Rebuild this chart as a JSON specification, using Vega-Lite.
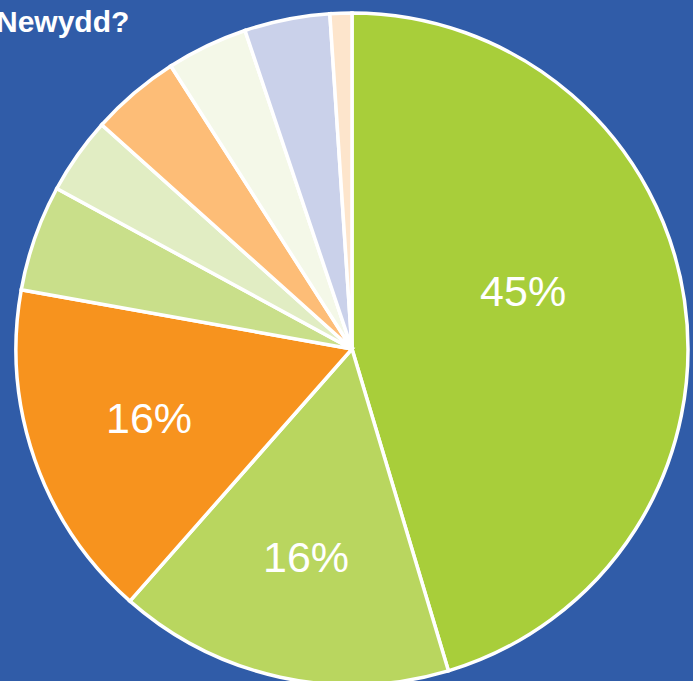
{
  "$schema": "https://vega.github.io/schema/vega-lite/v6.json",
  "width": 704,
  "height": 698,
  "autosize": "none",
  "padding": 0,
  "background": "#305CA8",
  "title": {"text": "Newydd?", "anchor": "start", "frame": "group", "orient": "top", "offset": -38, "dx": -4, "color": "white", "font": "Liberation Sans", "fontSize": 30, "fontWeight": "bold"},
  "config": {"view": {"stroke": null}},
  "data": {"values": [
    {"category": "Categori 1", "value": 45.3, "order": 1, "label": "45%"},
    {"category": "Categori 2", "value": 16.1, "order": 2, "label": "16%"},
    {"category": "Categori 3", "value": 16.3, "order": 3, "label": "16%"},
    {"category": "Categori 4", "value": 5.1, "order": 4, "label": ""},
    {"category": "Categori 5", "value": 3.7, "order": 5, "label": ""},
    {"category": "Categori 6", "value": 4.3, "order": 6, "label": ""},
    {"category": "Categori 7", "value": 3.9, "order": 7, "label": ""},
    {"category": "Categori 8", "value": 4.1, "order": 8, "label": ""},
    {"category": "Categori 9", "value": 1.05, "order": 9, "label": ""}
  ]},
  "encoding": {
    "theta": {"field": "value", "type": "quantitative", "stack": true},
    "order": {"field": "order", "type": "quantitative"}
  },
  "layer": [
    {
      "mark": {"type": "arc", "outerRadius": 336, "stroke": "white", "strokeWidth": 3.5},
      "encoding": {
        "color": {"field": "category", "type": "nominal", "legend": null,
          "scale": {"domain": ["Categori 1","Categori 2","Categori 3","Categori 4","Categori 5","Categori 6","Categori 7","Categori 8","Categori 9"],
                    "range": ["#A8CE3A","#B9D65F","#F7931E","#C9DF8A","#E1EDC3","#FDBD77","#F4F8E8","#CAD1EA","#FDE5CC"]}}
      }
    },
    {
      "mark": {"type": "text", "radius": 215, "fontSize": 43, "color": "white", "font": "Liberation Sans"},
      "encoding": {"text": {"condition": {"test": "datum.order != 1", "field": "label"}, "value": ""}}
    },
    {
      "mark": {"type": "text", "radius": 180, "thetaOffset": -0.17, "fontSize": 43, "color": "white", "font": "Liberation Sans"},
      "encoding": {"text": {"condition": {"test": "datum.order == 1", "field": "label"}, "value": ""}}
    }
  ]
}
